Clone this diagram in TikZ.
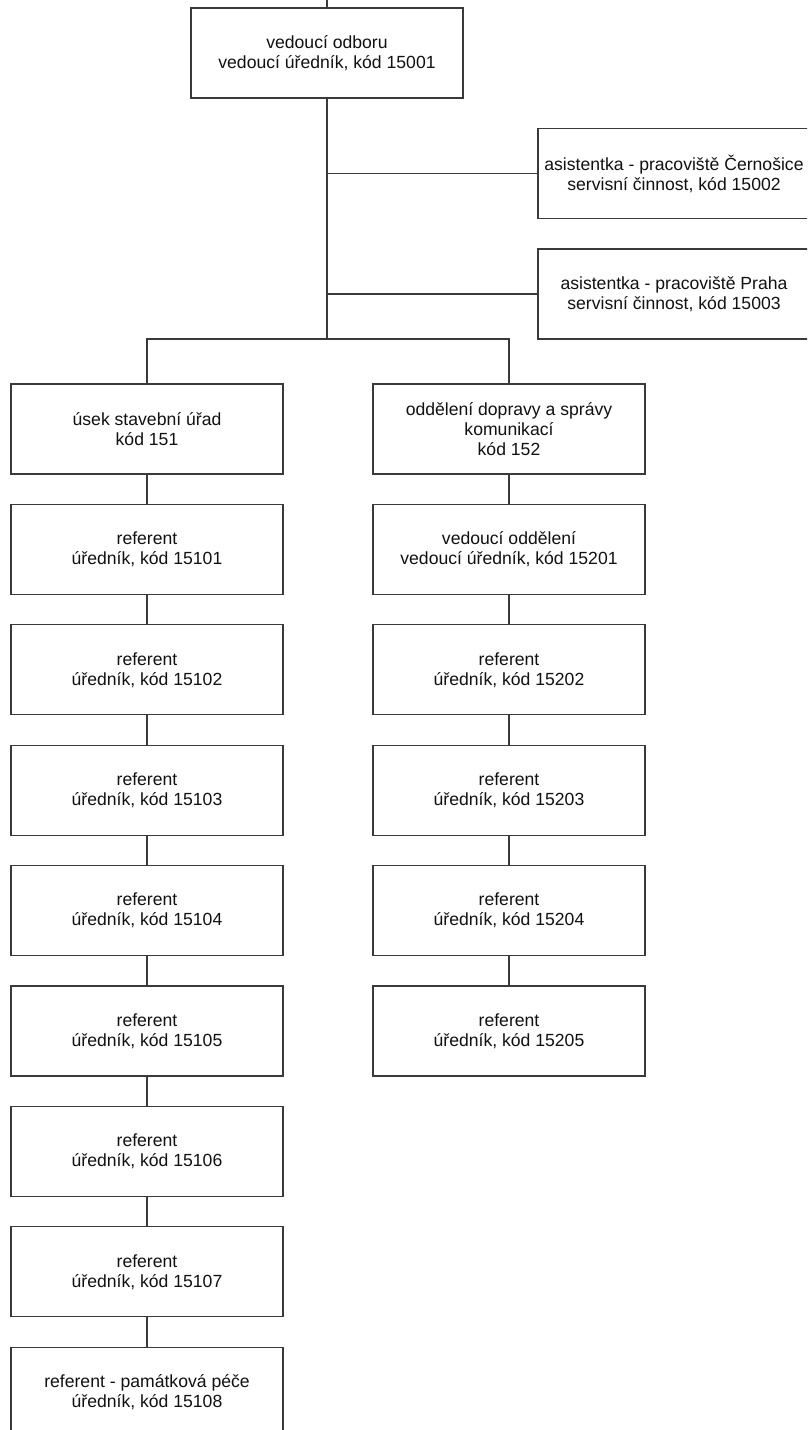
\documentclass[tikz,border=0pt]{standalone}
\usepackage{fontspec}
\setmainfont{Liberation Sans}
\definecolor{linec}{HTML}{3A3A3A}
\definecolor{textc}{HTML}{111111}
\begin{document}
\begin{tikzpicture}[x=1pt,y=-1pt,
  orgbox/.style={draw=linec, line width=1.3pt, fill=white, rectangle,
    minimum width=272pt, minimum height=90pt, inner sep=0pt,
    align=center, text=textc,
    font=\fontsize{17.6}{20}\selectfont},
  conn/.style={draw=linec, line width=1.3pt}]
\useasboundingbox (0,0) rectangle (807,1430);
\clip (0,0) rectangle (807,1430);

% top
\node[orgbox] (top) at (327,53) {vedoucí odboru\\vedoucí úředník, kód 15001};
% assistants
\node[orgbox] (a1) at (674,173.5) {asistentka - pracoviště Černošice\\servisní činnost, kód 15002};
\node[orgbox] (a2) at (674,294) {asistentka - pracoviště Praha\\servisní činnost, kód 15003};

% left column
\node[orgbox] (l0) at (147,429) {úsek stavební úřad\\kód 151};
\node[orgbox] (l1) at (147,549.4) {referent\\úředník, kód 15101};
\node[orgbox] (l2) at (147,669.8) {referent\\úředník, kód 15102};
\node[orgbox] (l3) at (147,790.2) {referent\\úředník, kód 15103};
\node[orgbox] (l4) at (147,910.6) {referent\\úředník, kód 15104};
\node[orgbox] (l5) at (147,1031) {referent\\úředník, kód 15105};
\node[orgbox] (l6) at (147,1151.4) {referent\\úředník, kód 15106};
\node[orgbox] (l7) at (147,1271.8) {referent\\úředník, kód 15107};
\node[orgbox] (l8) at (147,1392.2) {referent - památková péče\\úředník, kód 15108};

% right column
\node[orgbox] (r0) at (509,429) {oddělení dopravy a správy\\komunikací\\kód 152};
\node[orgbox] (r1) at (509,549.4) {vedoucí oddělení\\vedoucí úředník, kód 15201};
\node[orgbox] (r2) at (509,669.8) {referent\\úředník, kód 15202};
\node[orgbox] (r3) at (509,790.2) {referent\\úředník, kód 15203};
\node[orgbox] (r4) at (509,910.6) {referent\\úředník, kód 15204};
\node[orgbox] (r5) at (509,1031) {referent\\úředník, kód 15205};

% connectors
\coordinate (stub) at (327,0);
\coordinate (busL) at (147,339);
\coordinate (busR) at (509,339);
\coordinate (busM) at (327,339);
\draw[conn] (stub) -- (top.north);
\draw[conn] (top.south) -- (busM);
\draw[conn] (top.south |- a1.west) -- (a1.west);
\draw[conn] (top.south |- a2.west) -- (a2.west);
\draw[conn] (l0.north) -- (busL) -- (busR) -- (r0.north);

\foreach \a/\b in {l0/l1,l1/l2,l2/l3,l3/l4,l4/l5,l5/l6,l6/l7,l7/l8,
                   r0/r1,r1/r2,r2/r3,r3/r4,r4/r5}
  \draw[conn] (\a.south) -- (\b.north);
\end{tikzpicture}
\end{document}
